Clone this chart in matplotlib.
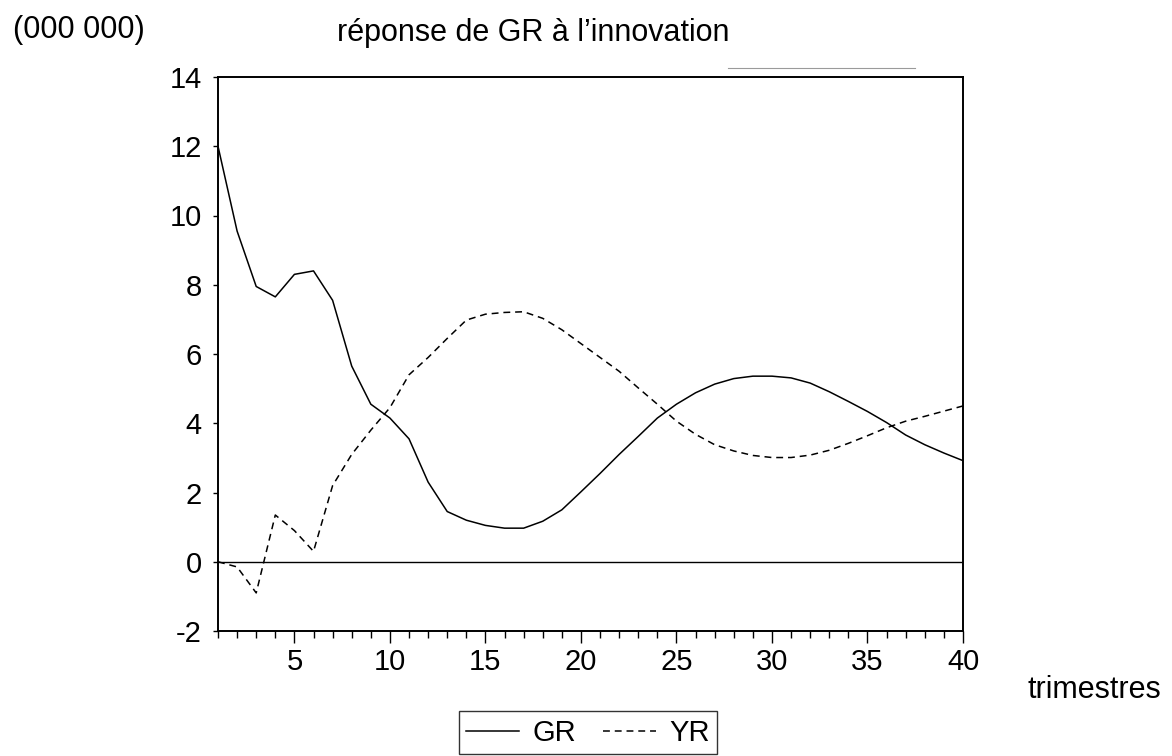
import numpy as np
import matplotlib
matplotlib.use("Agg")
import matplotlib.pyplot as plt
from matplotlib.lines import Line2D

# Impulse responses over 40 quarters
periods = list(range(1, 41))

gr = [12.0, 9.55, 7.95, 7.65, 8.3, 8.4, 7.55, 5.65, 4.55, 4.15,
      3.55, 2.3, 1.45, 1.2, 1.05, 0.97, 0.97, 1.17, 1.5, 2.02,
      2.55, 3.1, 3.62, 4.15, 4.55, 4.88, 5.13, 5.29, 5.36, 5.36,
      5.31, 5.16, 4.91, 4.63, 4.34, 4.02, 3.66, 3.38, 3.14, 2.92]

yr = [0.0, -0.15, -0.9, 1.35, 0.9, 0.3, 2.2, 3.1, 3.8, 4.45,
      5.4, 5.9, 6.45, 6.98, 7.15, 7.2, 7.22, 7.03, 6.7, 6.3,
      5.9, 5.5, 5.02, 4.55, 4.06, 3.68, 3.38, 3.2, 3.07, 3.01,
      3.01, 3.08, 3.22, 3.42, 3.64, 3.87, 4.06, 4.2, 4.35, 4.5]

x_major = [5, 10, 15, 20, 25, 30, 35, 40]
y_major = [-2, 0, 2, 4, 6, 8, 10, 12, 14]

plt.rcParams["font.family"] = ["Liberation Sans", "DejaVu Sans"]
plt.rcParams["axes.unicode_minus"] = False

W, H = 1172, 756
fig = plt.figure(figsize=(W / 100, H / 100), dpi=100)
ax = fig.add_axes([218 / W, 1 - 631 / H, (963 - 218) / W, (631 - 77) / H])

ax.plot(periods, gr, color="black", lw=1.1, label="GR")
ax.plot(periods, yr, color="black", lw=1.1, dashes=(4.5, 3.2), label="YR")
ax.axhline(0, color="black", lw=1.0)

ax.set_xlim(1, 40)
ax.set_ylim(-2, 14)
ax.set_xticks(x_major)
ax.set_xticks(periods, minor=True)
ax.set_yticks(y_major)

ax.tick_params(axis="x", which="major", direction="out", length=8.5, width=1,
               pad=4, labelsize=21)
ax.tick_params(axis="x", which="minor", direction="out", length=5, width=1)
ax.tick_params(axis="y", which="major", direction="out", length=3.6, width=1,
               pad=8, labelsize=21)

for sp in ax.spines.values():
    sp.set_linewidth(1.4)
    sp.set_color("black")

fig.text(13 / W, 1 - 30 / H, "(000 000)", fontsize=22, va="center", ha="left")
fig.text(337 / W, 1 - 33 / H, "réponse de GR à l’innovation", fontsize=22,
         va="center", ha="left")
fig.text(1028 / W, 1 - 690 / H, "trimestres", fontsize=22, va="center", ha="left")

# faint stray rule above the frame
fig.add_artist(Line2D([728 / W, 915 / W], [1 - 68 / H, 1 - 68 / H],
                      color="#9a9a9a", lw=0.8))

leg = fig.legend(loc="lower center", bbox_to_anchor=(588 / W, 2 / H), ncol=2,
                 fontsize=21, frameon=True, fancybox=False, edgecolor="black",
                 handlelength=1.8, handletextpad=0.45, columnspacing=0.95,
                 borderpad=0.25, borderaxespad=0)
leg.get_frame().set_linewidth(1.0)

fig.savefig("out.png", dpi=100, facecolor="white")
